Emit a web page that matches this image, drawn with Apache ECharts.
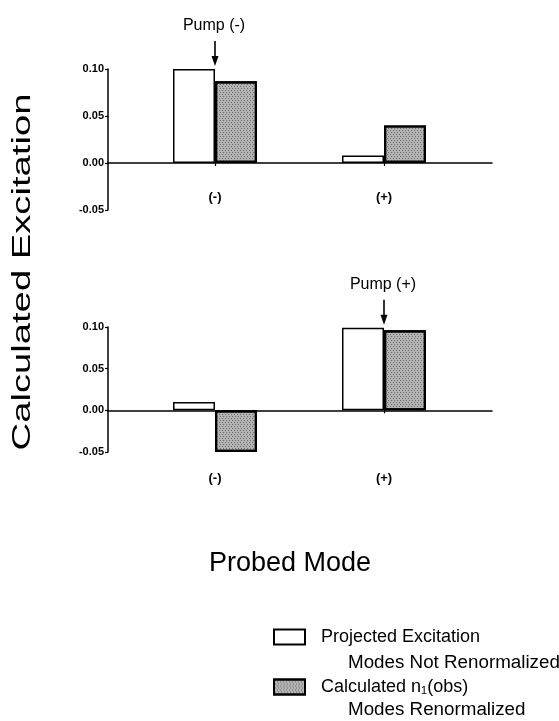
<!DOCTYPE html>
<html>
<head>
<meta charset="utf-8">
<script src="https://cdn.jsdelivr.net/npm/echarts@6/dist/echarts.min.js"></script>
<style>
html,body{margin:0;padding:0;background:#fff;}
#c{width:559px;height:721px;}
</style>
</head>
<body>
<div id="c"></div>
<script>
// ---- data ----
var categories = ['(-)', '(+)'];
var topProjected = [0.100, 0.008];
var topCalculated = [0.087, 0.040];
var bottomProjected = [0.010, 0.099];
var bottomCalculated = [-0.050, 0.096];
var pumpLabels = ['Pump (-)', 'Pump (+)'];
var pumpCategory = ['(-)', '(+)'];
var seriesNames = ['Projected Excitation', 'Calculated n\u2081(obs)'];
var legendSubLines = ['Modes Not Renormalized', 'Modes Renormalized'];
var yMin = -0.05, yMax = 0.10, yStep = 0.05;

var FONT = 'Liberation Sans, Arial, Helvetica, sans-serif';
var chart = echarts.init(document.getElementById('c'), null, {renderer: 'canvas'});

var grayDecal = {
  symbol: 'rect',
  symbolSize: 1,
  color: 'rgba(60,60,60,0.6)',
  dashArrayX: [[1, 2], [0, 1, 1, 1]],
  dashArrayY: [1, 1],
  rotation: 0
};
var whiteStyle = {color: '#ffffff', borderColor: '#000', borderWidth: 1.5};
var grayStyle = {color: '#b4b4b4', borderColor: '#000', borderWidth: 2.2, decal: grayDecal};

function yAxisVisible(gi) {
  return {
    gridIndex: gi, type: 'value', min: yMin, max: yMax, interval: yStep,
    axisLine: {show: true, lineStyle: {color: '#000', width: 1.5}},
    axisTick: {show: true, length: 3, lineStyle: {color: '#000', width: 1.2}},
    splitLine: {show: false},
    axisLabel: {
      color: '#000', fontFamily: FONT, fontSize: 11, fontWeight: 'bold', margin: 4,
      formatter: function (v) { return v.toFixed(2); }
    }
  };
}
function yAxisHidden(gi) {
  return {gridIndex: gi, type: 'value', min: yMin, max: yMax, interval: yStep, show: false};
}
function xAxisLine(gi) {
  return {
    gridIndex: gi, type: 'value', min: 0, max: 1,
    axisLine: {show: true, onZero: true, lineStyle: {color: '#000', width: 1.5}},
    axisTick: {show: false}, axisLabel: {show: false}, splitLine: {show: false}
  };
}
function xAxisCat(gi, margin) {
  return {
    gridIndex: gi, type: 'category', data: categories,
    axisLine: {show: true, onZero: true, lineStyle: {color: 'rgba(0,0,0,0)', width: 0}},
    axisTick: {show: true, alignWithLabel: true, length: 3, lineStyle: {color: '#000', width: 1.2}},
    axisLabel: {color: '#000', fontFamily: FONT, fontSize: 13, fontWeight: 'bold', margin: margin},
    splitLine: {show: false}
  };
}

var topGridTop = 69, topGridH = 141;
var botGridTop = 327, botGridH = 125;

var option = {
  animation: false,
  backgroundColor: '#ffffff',
  textStyle: {fontFamily: FONT},
  grid: [
    {left: 108, width: 384, top: topGridTop, height: topGridH},
    {left: 130.5, width: 338, top: topGridTop, height: topGridH},
    {left: 108, width: 384, top: botGridTop, height: botGridH},
    {left: 130.5, width: 338, top: botGridTop, height: botGridH}
  ],
  xAxis: [xAxisLine(0), xAxisCat(1, -19), xAxisLine(2), xAxisCat(3, 20)],
  yAxis: [yAxisVisible(0), yAxisHidden(1), yAxisVisible(2), yAxisHidden(3)],
  legend: {
    orient: 'vertical', left: 273, top: 628, padding: 0,
    itemWidth: 31, itemHeight: 15, itemGap: 32,
    icon: 'rect',
    data: seriesNames,
    selectedMode: false,
    textStyle: {color: '#000', fontFamily: FONT, fontSize: 18, padding: [0, 0, 0, 11]}
  },
  title: [
    {text: 'Probed Mode', left: 290, top: 550, textAlign: 'center', padding: 0,
     textStyle: {fontFamily: FONT, fontSize: 27, fontWeight: 'normal', color: '#000'}},
    {text: legendSubLines[0], left: 348, top: 653, padding: 0,
     textStyle: {fontFamily: FONT, fontSize: 18.8, fontWeight: 'normal', color: '#000'}},
    {text: legendSubLines[1], left: 348, top: 700, padding: 0,
     textStyle: {fontFamily: FONT, fontSize: 18.8, fontWeight: 'normal', color: '#000'}}
  ],
  series: [
    {name: seriesNames[0], type: 'bar', xAxisIndex: 1, yAxisIndex: 1, data: topProjected,
     barWidth: 42, barGap: '0%', itemStyle: whiteStyle},
    {name: seriesNames[1], type: 'bar', xAxisIndex: 1, yAxisIndex: 1, data: topCalculated,
     barWidth: 42, barGap: '0%', itemStyle: grayStyle},
    {name: seriesNames[0], type: 'bar', xAxisIndex: 3, yAxisIndex: 3, data: bottomProjected,
     barWidth: 42, barGap: '0%', itemStyle: whiteStyle},
    {name: seriesNames[1], type: 'bar', xAxisIndex: 3, yAxisIndex: 3, data: bottomCalculated,
     barWidth: 42, barGap: '0%', itemStyle: grayStyle}
  ]
};
chart.setOption(option);

// ---- annotations positioned through the axes ----
var graphics = [{
  id: 'ytitle', type: 'text', x: 23, y: 272, rotation: Math.PI / 2, scaleX: 1.47,
  style: {text: 'Calculated Excitation', font: '26px ' + FONT, fill: '#000',
          textAlign: 'center', textVerticalAlign: 'middle'}
}];
var pumpPanels = [
  {grid: 1, values: topProjected},
  {grid: 3, values: bottomProjected}
];
pumpPanels.forEach(function (p, i) {
  var ci = categories.indexOf(pumpCategory[i]);
  var pt = chart.convertToPixel({xAxisIndex: p.grid, yAxisIndex: p.grid}, [ci, p.values[ci]]);
  var x = Math.round(pt[0]);
  var tip = pt[1] - 3;
  var tail = tip - 25;
  graphics.push({
    id: 'al' + i, type: 'line', shape: {x1: x, y1: tail, x2: x, y2: tip - 8},
    style: {stroke: '#000', lineWidth: 1.6}
  });
  graphics.push({
    id: 'ah' + i, type: 'polygon', shape: {points: [[x - 3.5, tip - 10], [x + 3.5, tip - 10], [x, tip]]},
    style: {fill: '#000'}
  });
  graphics.push({
    id: 'at' + i, type: 'text', x: x - 1, y: tip - 40,
    style: {text: pumpLabels[i], font: '16px ' + FONT, fill: '#000',
            textAlign: 'center', textVerticalAlign: 'middle'}
  });
});
chart.setOption({graphic: graphics});
</script>
</body>
</html>
